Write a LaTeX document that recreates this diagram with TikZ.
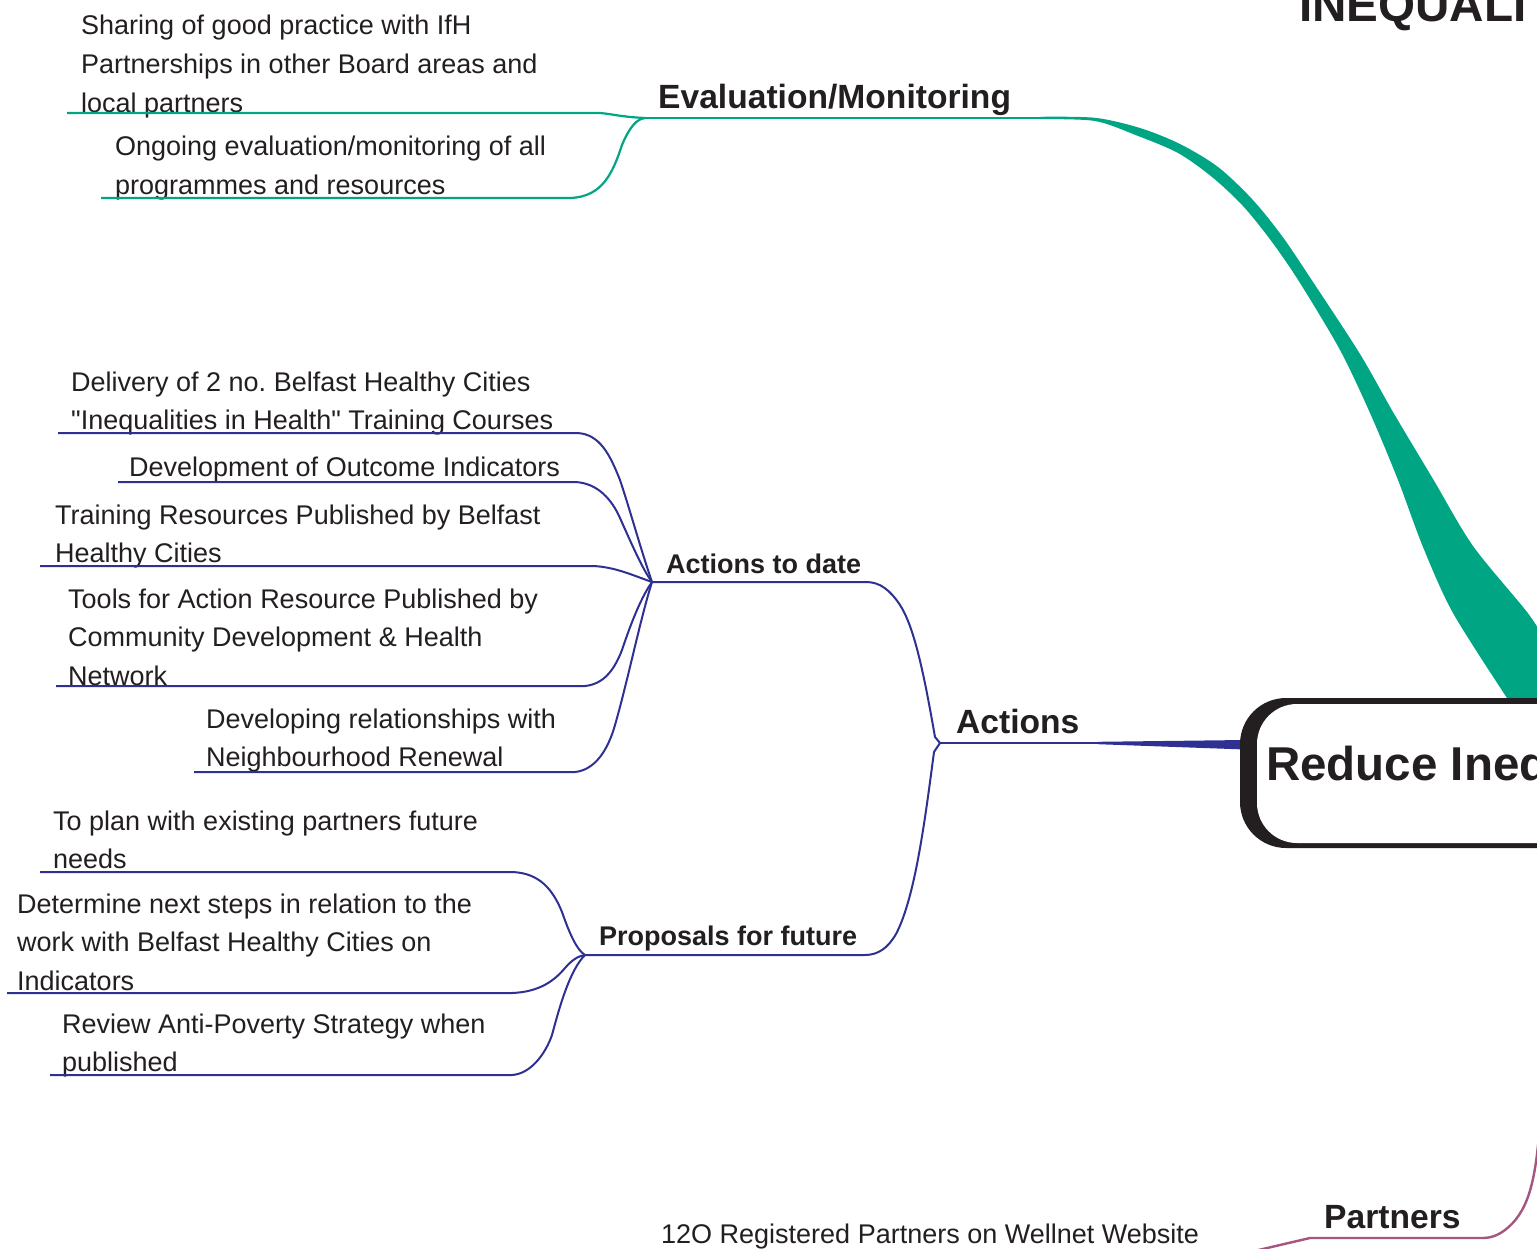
\documentclass[tikz,border=0pt]{standalone}
\usepackage{fontspec}
\setmainfont{Liberation Sans}
\frenchspacing
\definecolor{evalc}{RGB}{0,166,132}
\definecolor{actc}{RGB}{46,49,146}
\definecolor{partc}{RGB}{165,85,130}
\definecolor{ink}{RGB}{35,31,32}
\tikzset{
  % multi-line items are placed by the baseline of their last line
  item/.style={anchor=base west, align=left, inner sep=0pt, text=ink,
    font=\fontsize{27}{38.7}\selectfont},
  topic/.style={anchor=base west, inner sep=0pt, text=ink,
    font=\fontsize{33.6}{40}\selectfont\bfseries},
  subtopic/.style={anchor=base west, inner sep=0pt, text=ink,
    font=\fontsize{27}{32}\selectfont\bfseries},
  evalline/.style={draw=evalc, line width=2.2pt, line join=round},
  actline/.style={draw=actc, line width=2pt, line join=round},
  partline/.style={draw=partc, line width=2.4pt, line join=round},
}
\begin{document}
\begin{tikzpicture}[x=1pt,y=-1pt]
\useasboundingbox (0,0) rectangle (1537,1249);
\clip (0,0) rectangle (1537,1249);
\fill[white] (0,0) rectangle (1537,1249);

% ---------- Evaluation / Monitoring branch ----------
\coordinate (jEval) at (645,118);
\coordinate (eEnd) at (1040,118);
\fill[evalc] plot[smooth] coordinates {(1040,116.8) (1095,117.8) (1140,128) (1180,144) (1218,167) (1252,199) (1282,236) (1313,282) (1360,354) (1393,412) (1433,479) (1473,546) (1527,612) (1545,640)}
  -- (1545,698) -- (1507,698)
  -- plot[smooth] coordinates {(1507,698) (1453,613) (1423,547) (1398,480) (1370,413) (1340,350) (1300,283) (1272,242) (1243,206) (1212,177) (1178,153) (1138,136) (1095,121) (1040,119.2)}
  -- cycle;

\node[topic] (eval) at (658,109) {Evaluation/Monitoring};
\node[item] (e1) at (81,112.4) {Sharing of good practice with IfH\\Partnerships in other Board areas and\\local partners};
\node[item] (e2) at (115,194.5) {Ongoing evaluation/monitoring of all\\programmes and resources};

\coordinate (e1s) at (67,113);  \coordinate (e1e) at (600,113);
\coordinate (e2s) at (101,198); \coordinate (e2e) at (570,198);
\draw[evalline] (jEval) -- (eEnd);
\draw[evalline] (e1s) -- (e1e) .. controls (612,114) and (622,117) .. (jEval);
\draw[evalline] (e2s) -- (e2e) .. controls (603,197) and (613,172) .. (622,145) .. controls (630,126) and (637,119) .. (jEval);

% ---------- Actions branch ----------
\coordinate (jAct) at (940,743);
\coordinate (aEnd) at (1098,743);
\coordinate (jAtd) at (652,582);
\coordinate (atdEnd) at (866,582);
\coordinate (jPro) at (585,955);
\coordinate (proEnd) at (865,955);

\draw[actline] (jAct) -- (aEnd);
\fill[actc] (1098,741.8) -- (1245,740) -- (1245,749.5) -- (1098,744.2) -- cycle;

\node[topic] (actions) at (956,733) {Actions};
\node[subtopic] (atd) at (666,573) {Actions to date};
\node[subtopic] (pro) at (599,945) {Proposals for future};

\draw[actline] (jAct) -- (935,737) .. controls (925,680) and (915,628) .. (900,605) .. controls (890,590) and (880,582) .. (atdEnd) -- (jAtd);
\draw[actline] (jAct) -- (934,752) .. controls (925,820) and (915,898) .. (896,934) .. controls (888,948) and (878,955) .. (proEnd) -- (jPro);

% items under "Actions to date"
\node[item] (c1) at (71,429.7) {Delivery of 2 no. Belfast Healthy Cities\\\textquotedbl Inequalities in Health\textquotedbl{} Training Courses};
\node[item] (c2) at (129,476) {Development of Outcome Indicators};
\node[item] (c3) at (55,562.7) {Training Resources Published by Belfast\\Healthy Cities};
\node[item] (c4) at (68,685.4) {Tools for Action Resource Published by\\Community Development \& Health\\Network};
\node[item] (c5) at (206,766.7) {Developing relationships with\\Neighbourhood Renewal};

\coordinate (c1s) at (58,433);  \coordinate (c1e) at (577,433);
\coordinate (c2s) at (118,482); \coordinate (c2e) at (575,482);
\coordinate (c3s) at (40,566);  \coordinate (c3e) at (593,566);
\coordinate (c4s) at (56,686);  \coordinate (c4e) at (585,686);
\coordinate (c5s) at (194,772); \coordinate (c5e) at (575,772);

\draw[actline] (c1s) -- (c1e) .. controls (600,434) and (610,455) .. (620,480) .. controls (630,510) and (641,550) .. (jAtd);
\draw[actline] (c2s) -- (c2e) .. controls (598,483) and (612,500) .. (620,518) .. controls (632,545) and (643,570) .. (jAtd);
\draw[actline] (c3s) -- (c3e) .. controls (615,567) and (632,575) .. (jAtd);
\draw[actline] (c4s) -- (c4e) .. controls (605,684) and (615,668) .. (622,650) .. controls (632,620) and (642,596) .. (jAtd);
\draw[actline] (c5s) -- (c5e) .. controls (595,770) and (608,750) .. (615,725) .. controls (628,680) and (640,620) .. (jAtd);

% items under "Proposals for future"
\node[item] (p1) at (53,868.7) {To plan with existing partners future\\needs};
\node[item] (p2) at (17,990.4) {Determine next steps in relation to the\\work with Belfast Healthy Cities on\\Indicators};
\node[item] (p3) at (62,1071.7) {Review Anti-Poverty Strategy when\\published};

\coordinate (p1s) at (40,872);  \coordinate (p1e) at (512,872);
\coordinate (p2s) at (7,993);   \coordinate (p2e) at (512,993);
\coordinate (p3s) at (50,1075); \coordinate (p3e) at (512,1075);

\draw[actline] (p1s) -- (p1e) .. controls (540,873) and (553,890) .. (562,912) .. controls (570,935) and (577,950) .. (jPro);
\draw[actline] (p2s) -- (p2e) .. controls (540,992) and (555,980) .. (565,968) .. controls (572,960) and (578,956) .. (jPro);
\draw[actline] (p3s) -- (p3e) .. controls (530,1074) and (545,1055) .. (552,1035) .. controls (560,1005) and (570,970) .. (jPro);

% ---------- Partners branch ----------
\coordinate (pTop) at (1540,1120);
\coordinate (pEnd) at (1482,1238);
\coordinate (pMid) at (1310,1238);
\coordinate (pOut) at (1250,1252);
\draw[partline] (pTop) .. controls (1536,1185) and (1527,1213) .. (1505,1230) .. controls (1497,1236) and (1490,1238) .. (pEnd) -- (pMid) -- (pOut);
\node[topic] (partners) at (1324,1228) {Partners};
\node[item] (reg) at (661,1243) {12O Registered Partners on Wellnet Website};

% ---------- central topic ----------
\fill[ink, rounded corners=46] (1240,698) rectangle (1640,848);
\fill[white, rounded corners=40] (1257,704) rectangle (1640,843);
\node[anchor=base west, inner sep=0pt, text=ink, font=\fontsize{47.5}{50}\selectfont\bfseries] (centre) at (1266,780) {Reduce Inequalities};

% ---------- title ----------
\node[anchor=base west, inner sep=0pt, text=ink, font=\fontsize{47.6}{50}\selectfont\bfseries] (title) at (1299,22) {INEQUALI};
\end{tikzpicture}
\end{document}
